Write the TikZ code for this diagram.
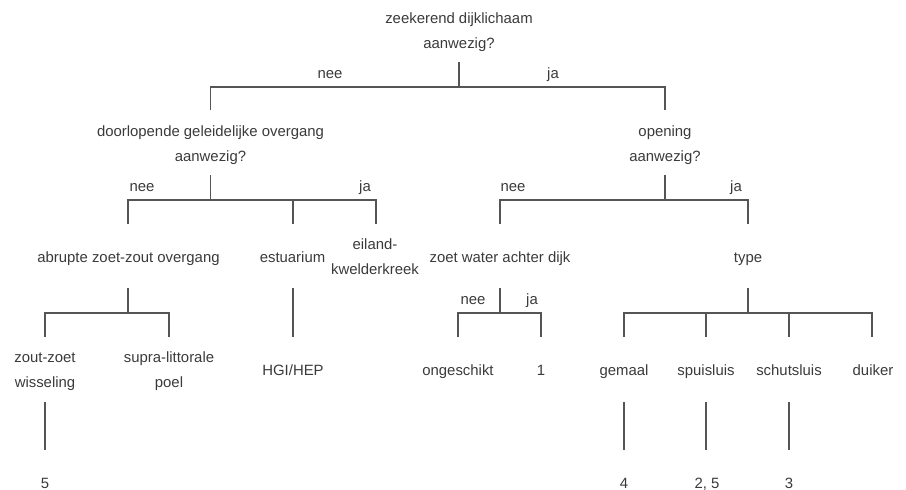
\documentclass[tikz,border=0pt]{standalone}
\usepackage{fontspec}
\setmainfont{Liberation Sans}
\definecolor{txtc}{HTML}{3A3A3A}
\definecolor{linec}{HTML}{555555}
\begin{document}
\begin{tikzpicture}[x=1pt,y=-1pt,
  lbl/.style={anchor=base,inner sep=0pt,align=center,text=txtc,font=\fontsize{14.9}{25}\selectfont},
  edge/.style={draw=linec,line width=1.4pt,line cap=butt}]
\useasboundingbox (0,0) rectangle (906,490);
% texts (base anchor = baseline of the last line)
\node[lbl] (root) at (459,48) {zeekerend dijklichaam\\aanwezig?};
\node[lbl] (n1) at (330,78) {nee};
\node[lbl] (j1) at (553,78) {ja};
\node[lbl] (door) at (210.5,161) {doorlopende geleidelijke overgang\\aanwezig?};
\node[lbl] (open) at (665,161) {opening\\aanwezig?};
\node[lbl] (n2) at (142,191) {nee};
\node[lbl] (j2) at (365,191) {ja};
\node[lbl] (n3) at (513,191) {nee};
\node[lbl] (j3) at (736,191) {ja};
\node[lbl] (abr) at (128.5,262) {abrupte zoet-zout overgang};
\node[lbl] (est) at (292.5,262) {estuarium};
\node[lbl] (eil) at (375,274) {eiland-\\kwelderkreek};
\node[lbl] (zw) at (500,262) {zoet water achter dijk};
\node[lbl] (typ) at (748,262) {type};
\node[lbl] (n4) at (473,304) {nee};
\node[lbl] (j4) at (532,304) {ja};
\node[lbl] (zz) at (45,387) {zout-zoet\\wisseling};
\node[lbl] (sup) at (169,387) {supra-littorale\\poel};
\node[lbl] (hgi) at (293,375) {HGI/HEP};
\node[lbl] (ong) at (458,375) {ongeschikt};
\node[lbl] (one) at (541,375) {1};
\node[lbl] (gem) at (624,375) {gemaal};
\node[lbl] (spu) at (706,375) {spuisluis};
\node[lbl] (sch) at (789,375) {schutsluis};
\node[lbl] (dui) at (873,375) {duiker};
\node[lbl] (r5) at (45,488) {5};
\node[lbl] (r4) at (624,488) {4};
\node[lbl] (r25) at (707,488) {2, 5};
\node[lbl] (r3) at (789,488) {3};
% connector coordinates
\coordinate (a0) at (459,62);  \coordinate (a1) at (459,87);
\coordinate (a2) at (210.5,87); \coordinate (a3) at (210.5,110);
\coordinate (a4) at (665,87);  \coordinate (a5) at (665,110);
\coordinate (b0) at (210.5,175); \coordinate (b1) at (210.5,200);
\coordinate (b2) at (128,200); \coordinate (b3) at (128,224);
\coordinate (b4) at (293,200); \coordinate (b5) at (293,224);
\coordinate (b6) at (376,200); \coordinate (b7) at (376,224);
\coordinate (c0) at (665,175); \coordinate (c1) at (665,200);
\coordinate (c2) at (500,200); \coordinate (c3) at (500,224);
\coordinate (c4) at (748,200); \coordinate (c5) at (748,224);
\coordinate (d0) at (128,288); \coordinate (d1) at (128,313);
\coordinate (d2) at (45,313);  \coordinate (d3) at (45,337);
\coordinate (d4) at (169,313); \coordinate (d5) at (169,337);
\coordinate (e0) at (293,288); \coordinate (e1) at (293,337);
\coordinate (f0) at (500,288); \coordinate (f1) at (500,313);
\coordinate (f2) at (458,313); \coordinate (f3) at (458,337);
\coordinate (f4) at (541,313); \coordinate (f5) at (541,337);
\coordinate (g0) at (748,288); \coordinate (g1) at (748,313);
\coordinate (g2) at (624,313); \coordinate (g3) at (624,337);
\coordinate (g4) at (706,313); \coordinate (g5) at (706,337);
\coordinate (g6) at (789,313); \coordinate (g7) at (789,337);
\coordinate (g8) at (872,313); \coordinate (g9) at (872,337);
\coordinate (h0) at (45,402);  \coordinate (h1) at (45,450);
\coordinate (h2) at (624,402); \coordinate (h3) at (624,450);
\coordinate (h4) at (706,402); \coordinate (h5) at (706,450);
\coordinate (h6) at (789,402); \coordinate (h7) at (789,450);
% connectors
\draw[edge] (a0) -- (a1);
\draw[edge] (a3) -- (a2) -- (a4) -- (a5);
\draw[edge] (b0) -- (b1);
\draw[edge] (b3) -- (b2) -- (b6) -- (b7);
\draw[edge] (b4) -- (b5);
\draw[edge] (c0) -- (c1);
\draw[edge] (c3) -- (c2) -- (c4) -- (c5);
\draw[edge] (d0) -- (d1);
\draw[edge] (d3) -- (d2) -- (d4) -- (d5);
\draw[edge] (e0) -- (e1);
\draw[edge] (f0) -- (f1);
\draw[edge] (f3) -- (f2) -- (f4) -- (f5);
\draw[edge] (g0) -- (g1);
\draw[edge] (g3) -- (g2) -- (g8) -- (g9);
\draw[edge] (g4) -- (g5);
\draw[edge] (g6) -- (g7);
\draw[edge] (h0) -- (h1);
\draw[edge] (h2) -- (h3);
\draw[edge] (h4) -- (h5);
\draw[edge] (h6) -- (h7);
\end{tikzpicture}
\end{document}
